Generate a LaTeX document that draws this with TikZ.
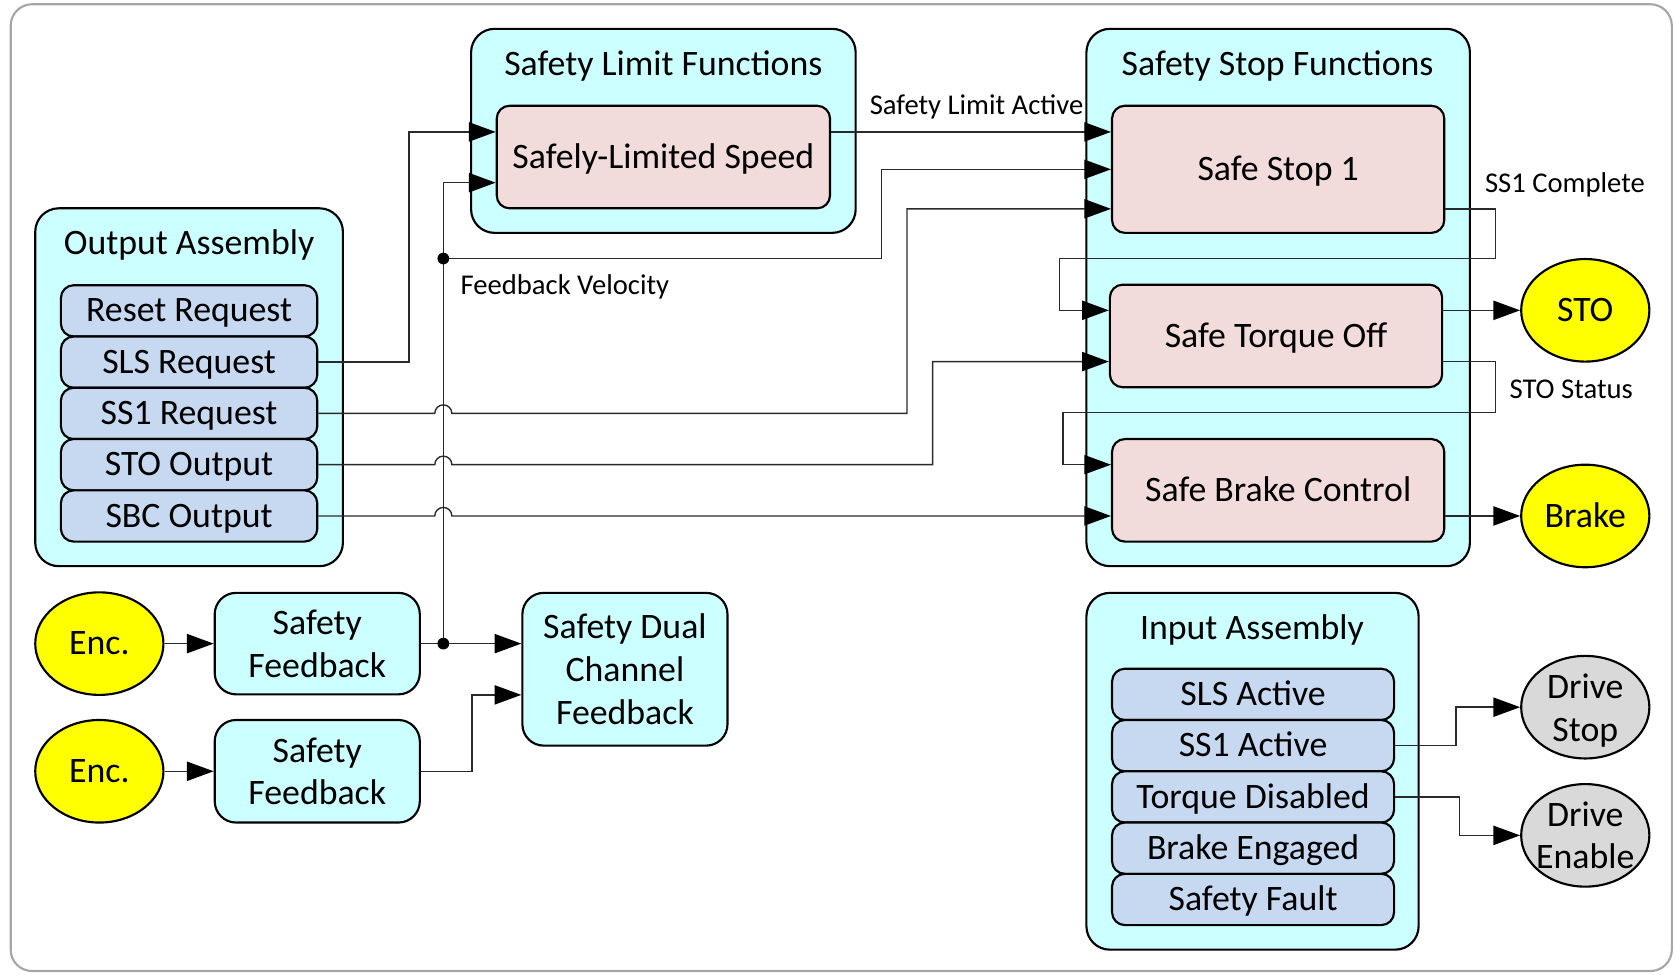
\documentclass[tikz,border=0pt]{standalone}
\usepackage{fontspec}
\setmainfont{Carlito}
\usetikzlibrary{arrows.meta,shapes.geometric}
\definecolor{cyanfill}{HTML}{CCFFFF}
\definecolor{itemfill}{HTML}{C6D9F1}
\definecolor{funcfill}{HTML}{F2DCDB}
\definecolor{sigyellow}{HTML}{FFFF00}
\definecolor{siggray}{HTML}{D9D9D9}
\definecolor{framegray}{HTML}{A6A6A6}
\definecolor{wire}{HTML}{2A2A2A}
\begin{document}
\begin{tikzpicture}[x=1pt,y=-1pt,
  bigfont/.style={font=\fontsize{33.5}{40}\selectfont},
  smallfont/.style={font=\fontsize{26.8}{32}\selectfont},
  oneline/.style={text height=27pt, text depth=6.2pt},
  group/.style={draw=black, line width=2pt, fill=cyanfill, rounded corners=22pt, inner sep=0pt},
  title/.style={bigfont, oneline, inner sep=0pt},
  func/.style={draw=black, line width=2pt, fill=funcfill, rounded corners=12pt, bigfont, oneline, inner sep=0pt, minimum width=311pt},
  item/.style={draw=black, line width=2pt, fill=itemfill, rounded corners=12pt, bigfont, oneline, inner sep=0pt, minimum height=48pt},
  blockbox/.style={draw=black, line width=2pt, fill=cyanfill, rounded corners=20pt, bigfont, inner sep=0pt, align=center, minimum width=192pt},
  signal/.style={ellipse, draw=black, line width=2pt, bigfont, inner sep=0pt, minimum width=120pt, minimum height=96pt, align=center},
  signaltext/.style={bigfont, align=center, inner sep=0pt},
  label/.style={smallfont, inner sep=0pt, anchor=west},
  wireline/.style={draw=wire, line width=1.3pt},
  arr/.style={wireline, -{Triangle[length=25pt,width=18pt,color=black]}},
  junction/.style={fill=black}
]
\useasboundingbox (0,0) rectangle (1568,912);
\draw[framegray, line width=2pt, rounded corners=20pt] (10,4) rectangle (1565,909);

% Safety limit functions
\node[group, minimum width=360pt, minimum height=191pt] (slf) at (621,122.5) {};
\node[title] (slft) at (621,60) {Safety Limit Functions};
\node[func, minimum width=312pt, minimum height=96pt] (sls) at (621,147) {Safely-Limited Speed};

% Safety stop functions
\node[group, minimum width=359pt, minimum height=503pt] (ssf) at (1196.5,278.5) {};
\node[title] (ssft) at (1196,60) {Safety Stop Functions};
\node[func, minimum height=119pt] (ss1) at (1196.5,158.5) {Safe Stop 1};
\node[func, minimum height=96pt] (stof) at (1194.5,314.5) {Safe Torque Off};
\node[func, minimum height=96pt] (sbc) at (1196.5,459) {Safe Brake Control};

% Output assembly
\node[group, minimum width=288pt, minimum height=335pt] (oa) at (177,362.5) {};
\node[title] (oat) at (177,228) {Output Assembly};
\node[item, minimum width=240pt] (rstreq) at (177,291) {Reset Request};
\node[item, minimum width=240pt] (slsreq) at (177,339) {SLS Request};
\node[item, minimum width=240pt] (ss1req) at (177,387) {SS1 Request};
\node[item, minimum width=240pt] (stoout) at (177,435) {STO Output};
\node[item, minimum width=240pt] (sbcout) at (177,483) {SBC Output};

% Input assembly
\node[group, minimum width=311pt, minimum height=334pt] (ia) at (1172.5,722) {};
\node[title] (iat) at (1172,588) {Input Assembly};
\node[item, minimum width=264pt] (slsact) at (1173,650) {SLS Active};
\node[item, minimum width=264pt] (ss1act) at (1173,698) {SS1 Active};
\node[item, minimum width=264pt] (tqdis) at (1173,746) {Torque Disabled};
\node[item, minimum width=264pt] (brkeng) at (1173,794) {Brake Engaged};
\node[item, minimum width=264pt] (sfault) at (1173,842) {Safety Fault};

% Encoders and feedback
\node[signal, oneline, fill=sigyellow] (enc1) at (93,602.5) {Enc.};
\node[signal, oneline, fill=sigyellow] (enc2) at (93,722) {Enc.};
\node[blockbox, minimum height=95pt] (sf1) at (297,602.5) {Safety\\Feedback};
\node[blockbox, minimum height=96pt] (sf2) at (297,722) {Safety\\Feedback};
\node[blockbox, minimum height=143pt] (sdcf) at (585,626.5) {Safety Dual\\Channel\\Feedback};

% Drive signals
\node[signal, oneline, fill=sigyellow] (stoell) at (1484,290.5) {STO};
\node[signal, oneline, fill=sigyellow] (brake) at (1484,483) {Brake};
\node[signal, fill=siggray] (dstop) at (1484,662) {};
\node[signaltext] (dstoptxt) at (1484,665) {Drive\\Stop};
\node[signal, fill=siggray] (denable) at (1484,782) {};
\node[signaltext] (denabletxt) at (1484,782) {Drive\\Enable};

% Routing columns
\coordinate (fbx) at (415,0);
\coordinate (k383) at (383,0);
\coordinate (k442) at (442,0);
\coordinate (k825) at (825,0);
\coordinate (k849) at (849,0);
\coordinate (k873) at (873,0);
\coordinate (k1363) at (1363,0);
\coordinate (k1366) at (1366,0);
\coordinate (dotA) at (415,242);
\coordinate (dotB) at (sf1.east -| fbx);
\coordinate (r1) at (1400,242);
\coordinate (l1) at (992,242);
\coordinate (r2) at (1400,386);
\coordinate (l2) at (995,386);

% Requests into the limit and stop functions
\draw[arr] (slsreq.east) -- (slsreq.east -| k383) |- ([yshift=23.5pt]sls.west);
\draw[arr] ([yshift=23.5pt]sls.east) -- ([yshift=23.5pt]sls.east -| ss1.west);
\draw[arr] (dotB) |- ([yshift=-24pt]sls.west);
\draw[arr] (dotA) -- (dotA -| k825) |- (ss1.west);
\draw[arr] (ss1req.east) -- ([xshift=-8pt]ss1req.east -| fbx)
  arc[start angle=180, end angle=0, radius=8pt]
  -- (ss1req.east -| k849) |- ([yshift=-37pt]ss1.west);
\draw[arr] (stoout.east) -- ([xshift=-8pt]stoout.east -| fbx)
  arc[start angle=180, end angle=0, radius=8pt]
  -- (stoout.east -| k873) |- ([yshift=-24pt]stof.west);
\draw[arr] (sbcout.east) -- ([xshift=-8pt]sbcout.east -| fbx)
  arc[start angle=180, end angle=0, radius=8pt]
  -- (sbcout.east -| sbc.west);

% Chaining inside the stop functions
\draw[arr] ([yshift=-37pt]ss1.east) -| (r1) -- (l1) |- ([yshift=24pt]stof.west);
\draw[arr] ([yshift=-24pt]stof.east) -| (r2) -- (l2) |- ([yshift=24pt]sbc.west);
\draw[arr] ([yshift=24pt]stof.east) -- (stoell.west);
\draw[arr] ([yshift=-24pt]sbc.east) -- (brake.west);

% Encoder feedback chain
\draw[arr] (enc1.east) -- (sf1.west);
\draw[arr] (enc2.east) -- (sf2.west);
\draw[arr] (sf1.east) -- (sf1.east -| sdcf.west);
\draw[arr] (sf2.east) -- (sf2.east -| k442) |- ([yshift=-24pt]sdcf.west);
\fill[junction] (dotA) circle[radius=5.5pt];
\fill[junction] (dotB) circle[radius=5.5pt];

% Input assembly to drive
\draw[arr] (ss1act.east) -- (ss1act.east -| k1363) |- (dstop.west);
\draw[arr] (tqdis.east) -- (tqdis.east -| k1366) |- (denable.west);

% Signal labels
\node[label] (lsla) at (814,100) {Safety Limit Active};
\node[label] (lfbv) at (431,269) {Feedback Velocity};
\node[label] (lss1c) at (1390,173) {SS1 Complete};
\node[label] (lstos) at (1413,364) {STO Status};
\end{tikzpicture}
\end{document}
